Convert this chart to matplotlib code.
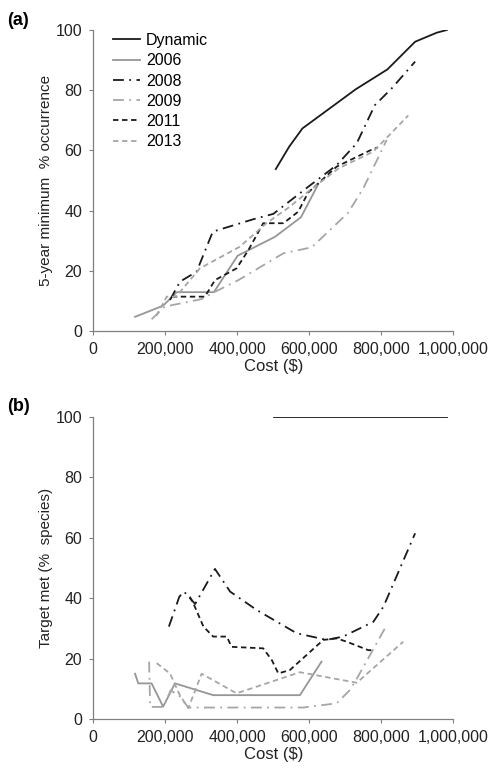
import numpy as np
import matplotlib.pyplot as plt
from matplotlib.ticker import FuncFormatter

plt.rcParams['font.family'] = ['Liberation Sans', 'DejaVu Sans']

# ---- panel (a): 5-year minimum % occurrence (cost in $1000)
a_dyn_x = [507, 544, 581, 729, 817, 894, 954, 982]
a_dyn_y = [53.8, 61.2, 67.3, 80.3, 86.9, 96.1, 99.1, 100]
a_06_x = [116, 194, 232, 335, 401, 505, 577, 625]
a_06_y = [4.7, 8.4, 12.9, 12.9, 25.0, 31.3, 37.8, 48.8]
a_08_x = [213, 241, 287, 332, 444, 500, 597, 676, 732, 782, 829, 894]
a_08_y = [10.3, 16.4, 19.7, 33.0, 37.1, 38.9, 47.9, 55.1, 62.4, 75.0, 80.6, 89.5]
a_09_x = [162, 199, 301, 333, 403, 528, 607, 708, 750, 806, 815]
a_09_y = [3.9, 8.1, 10.6, 12.7, 16.9, 25.8, 27.8, 39.3, 47.4, 61.2, 63.5]
a_11_x = [218, 310, 338, 398, 431, 472, 528, 569, 597, 676, 769, 790]
a_11_y = [11.4, 11.4, 16.9, 20.8, 26.9, 35.8, 35.8, 39.6, 46.0, 54.6, 60.0, 61.0]
a_13_x = [175, 204, 230, 296, 407, 481, 546, 597, 681, 778, 875]
a_13_y = [5.0, 11.4, 11.4, 20.8, 28.0, 35.8, 41.3, 46.3, 54.0, 59.6, 71.6]

# ---- panel (b): target met (% species)
b_dyn_x = [503, 982]
b_dyn_y = [100, 100]
b_06_x = [116, 125, 162, 194, 227, 333, 574, 634]
b_06_y = [15.0, 11.8, 11.8, 4.1, 11.8, 7.9, 7.9, 19.0]
b_08_x = [210, 239, 252, 283, 338, 380, 454, 565, 648, 694, 778, 806, 894]
b_08_y = [30.6, 40.5, 42.2, 38.1, 49.7, 42.2, 36.1, 28.4, 26.2, 27.3, 32.2, 37.2, 61.5]
b_09_x = [155, 158, 195, 215, 240, 264, 583, 676, 713, 735, 810]
b_09_y = [19.0, 4.0, 4.0, 9.5, 7.5, 3.8, 3.8, 5.2, 9.6, 14.0, 30.0]
b_11_x = [268, 278, 306, 333, 371, 384, 472, 496, 514, 546, 639, 676, 704, 764, 778]
b_11_y = [40.5, 38.3, 30.6, 27.3, 27.3, 23.9, 23.4, 19.5, 15.1, 16.2, 26.2, 26.7, 25.6, 22.8, 22.8]
b_13_x = [176, 213, 240, 264, 301, 398, 574, 732, 861]
b_13_y = [18.5, 15.1, 8.0, 3.6, 15.0, 8.5, 15.5, 12.0, 25.6]

labels = ['Dynamic', '2006', '2008', '2009', '2011', '2013']
x_ticks = [0, 200000, 400000, 600000, 800000, 1000000]
y_ticks = [0, 20, 40, 60, 80, 100]

BLACK = '#1a1a1a'
GREY = '#969696'
LGREY = '#a6a6a6'
DASHDOT = (0, (6, 3, 1, 3))
DASH = (0, (3, 2))
styles = [
    dict(color=BLACK, ls='-'),
    dict(color=GREY, ls='-'),
    dict(color=BLACK, ls=DASHDOT),
    dict(color=LGREY, ls=DASHDOT),
    dict(color=BLACK, ls=DASH),
    dict(color=LGREY, ls=DASH),
]

fig = plt.figure(figsize=(4.92, 7.69), dpi=100)
ax_a = fig.add_axes([0.1896, 0.5696, 0.7317, 0.3914])
ax_b = fig.add_axes([0.1896, 0.0650, 0.7317, 0.3927])

series_a = [(a_dyn_x, a_dyn_y), (a_06_x, a_06_y), (a_08_x, a_08_y),
            (a_09_x, a_09_y), (a_11_x, a_11_y), (a_13_x, a_13_y)]
series_b = [(b_dyn_x, b_dyn_y), (b_06_x, b_06_y), (b_08_x, b_08_y),
            (b_09_x, b_09_y), (b_11_x, b_11_y), (b_13_x, b_13_y)]

fmt = FuncFormatter(lambda v, p: f'{int(v):,}')

for ax, series, ylab in [(ax_a, series_a, '5-year minimum  % occurrence'),
                         (ax_b, series_b, 'Target met (%  species)')]:
    for (xs, ys), lab, st in zip(series, labels, styles):
        ax.plot(np.array(xs) * 1000, ys, lw=1.3, label=lab, **st)
    ax.set_xlim(0, 1000000)
    ax.set_ylim(0, 100)
    ax.set_xticks(x_ticks)
    ax.set_yticks(y_ticks)
    ax.xaxis.set_major_formatter(fmt)
    for s in ['top', 'right']:
        ax.spines[s].set_visible(False)
    for s in ['left', 'bottom']:
        ax.spines[s].set_color('#808080')
        ax.spines[s].set_linewidth(0.9)
    ax.tick_params(axis='both', direction='out', length=3, width=0.8,
                   color='#808080', labelsize=11.5, labelcolor='#222222')
    ax.tick_params(axis='x', pad=5)
    ax.tick_params(axis='y', pad=5)
    ax.set_xlabel('Cost ($)', fontsize=12, color='#222222', labelpad=1.5)
    ax.set_ylabel(ylab, fontsize=11, color='#222222', labelpad=1.5)

ax_a.legend(loc='upper left', bbox_to_anchor=(0.055, 0.99), frameon=False,
            fontsize=11.5, handlelength=1.7, handletextpad=0.35,
            labelspacing=0.33, borderaxespad=0, borderpad=0)

fig.text(0.014, 0.984, '(a)', fontsize=13, fontweight='bold', va='top')
fig.text(0.014, 0.4824, '(b)', fontsize=13, fontweight='bold', va='top')

fig.savefig('out.png', dpi=100)
